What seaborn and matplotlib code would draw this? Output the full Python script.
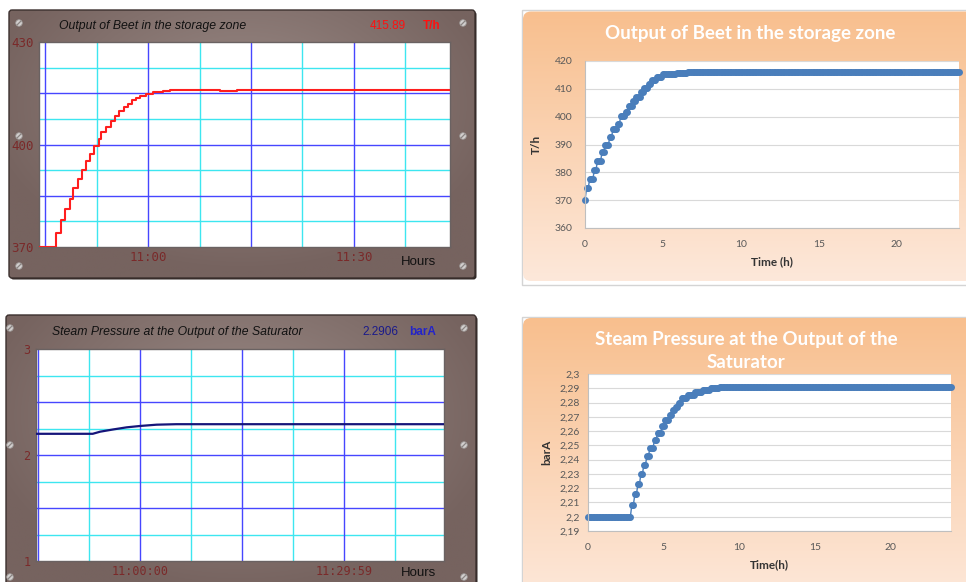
import numpy as np
import pandas as pd
import matplotlib
matplotlib.use("Agg")
import matplotlib.pyplot as plt
from matplotlib.patches import FancyBboxPatch, Circle, Rectangle
import seaborn as sns

sns.set_style("white")
plt.rcParams["font.family"] = ["Liberation Sans", "DejaVu Sans"]

# ---------------- data ----------------
# HMI trend 1: beet output (minutes relative to 11:00, T/h), step trace
beet_hmi_min = [-15.9, -13.47, -12.74, -12.06, -11.43, -10.94, -10.16, -9.63, -9.09,
                -8.51, -7.83, -7.20, -6.81, -6.08, -5.45, -4.76, -4.23, -3.55, -2.92,
                -2.29, -1.70, -1.22, -0.24, 0.73, 2.19, 3.16, 8.0, 10.5, 13.0, 44.0]
beet_hmi_val = [370.0, 374.1, 377.8, 381.0, 384.1, 387.3, 390.0, 392.5, 395.2,
                397.3, 399.7, 401.6, 403.6, 405.1, 406.8, 408.2, 409.7, 410.9, 412.0,
                412.9, 413.7, 414.1, 414.7, 415.3, 415.6, 415.89, 416.0, 415.8, 415.89, 415.89]
beet_reading = "415.89"

# HMI trend 2: steam pressure (minutes relative to 11:00, barA)
steam_hmi_min = [-15.34, -7.0, -5.9, -3.9, -2.0, 0.0, 2.4, 5.3, 44.66]
steam_hmi_val = [2.2, 2.2, 2.22, 2.242, 2.261, 2.274, 2.286, 2.2906, 2.2906]
steam_reading = "2.2906"

# Spreadsheet series, logged every 0.1 h: level of each step and samples per step
beet_levels = [370.0, 374.2, 377.5, 380.7, 384.1, 387.3, 390.0, 392.7, 395.5, 397.5,
               400.1, 401.7, 403.7, 405.7, 407.1, 408.9, 410.4, 411.9, 413.0, 414.3,
               415.2, 415.7, 415.89]
beet_counts = [1, 2, 3, 2, 3, 2, 3, 2, 3, 2, 3, 2, 3, 2, 3, 2, 3, 2, 3, 4, 9, 7, 175]

steam_levels = [2.2, 2.2084, 2.2157, 2.2227, 2.2302, 2.2365, 2.2428, 2.2484, 2.254,
                2.2587, 2.2637, 2.2677, 2.2712, 2.2747, 2.277, 2.2799, 2.2829, 2.2852,
                2.2876, 2.2888, 2.290, 2.2906]
steam_counts = [29, 2, 2, 2, 2, 2, 2, 3, 2, 3, 2, 3, 2, 2, 2, 2, 4, 5, 5, 5, 6, 154]
sample_step_h = 0.1

beet_xl = pd.DataFrame({"t": np.round(np.arange(sum(beet_counts)) * sample_step_h, 1),
                        "v": np.repeat(beet_levels, beet_counts)})
steam_xl = pd.DataFrame({"t": np.round(np.arange(sum(steam_counts)) * sample_step_h, 1),
                         "v": np.repeat(steam_levels, steam_counts)})

# ---------------- figure ----------------
W, H = 966, 582
fig = plt.figure(figsize=(W / 100, H / 100), dpi=100)
fig.patch.set_facecolor("white")


def frac(x0, y0, x1, y1):
    return [x0 / W, 1 - y1 / H, (x1 - x0) / W, (y1 - y0) / H]


bg = fig.add_axes([0, 0, 1, 1])
bg.set_zorder(-1)
bg.set_xlim(0, W)
bg.set_ylim(H, 0)
bg.axis("off")


def gradient_box(x0, y0, x1, y1, img, radius, edge=None, lw=0):
    patch = FancyBboxPatch((x0, y0), x1 - x0, y1 - y0,
                           boxstyle=f"round,pad=0,rounding_size={radius}",
                           facecolor="none", edgecolor="none")
    bg.add_patch(patch)
    im = bg.imshow(img, extent=(x0, x1, y1, y0), origin="upper",
                   aspect="auto", interpolation="bilinear", zorder=1)
    im.set_clip_path(patch)
    if edge is not None:
        bg.add_patch(FancyBboxPatch((x0, y0), x1 - x0, y1 - y0,
                                    boxstyle=f"round,pad=0,rounding_size={radius}",
                                    facecolor="none", edgecolor=edge, lw=lw, zorder=2))
    bg.set_xlim(0, W)
    bg.set_ylim(H, 0)


def frame_texture(nx=240, ny=140):
    xx, yy = np.meshgrid(np.linspace(-1, 1, nx), np.linspace(-1, 1, ny))
    d = np.clip(np.sqrt((xx * 0.9) ** 2 + ((yy + 0.3) * 0.8) ** 2), 0, 1)
    light = np.array([0x9a, 0x8a, 0x86]) / 255
    dark = np.array([0x76, 0x63, 0x5f]) / 255
    return light[None, None, :] * (1 - d[..., None]) + dark[None, None, :] * d[..., None]


def peach_texture(ny=100):
    t = np.linspace(0, 1, ny)[:, None, None]
    top = np.array([0xf8, 0xbf, 0x8e]) / 255
    bot = np.array([0xfd, 0xe8, 0xda]) / 255
    return np.repeat(top * (1 - t) + bot * t, 4, axis=1)


def screw(x, y):
    bg.add_patch(Circle((x, y), 3.3, facecolor="#d2cfce", edgecolor="#9a9492",
                        lw=0.6, zorder=3))
    bg.plot([x - 1.8, x + 1.8], [y + 1.8, y - 1.8], color="#8a8482", lw=0.9, zorder=4)


# HMI frames (with dark drop edge)
for (x0, y0, x1, y1) in [(9, 10, 475, 278), (6, 315, 476, 600)]:
    bg.add_patch(FancyBboxPatch((x0 + 1.5, y0 + 1.5), x1 - x0, y1 - y0,
                                boxstyle="round,pad=0,rounding_size=3",
                                facecolor="#2e2624", edgecolor="none", zorder=0.5))
    gradient_box(x0, y0, x1, y1, frame_texture(), 3, edge="#3b302e", lw=1.0)

for (x, y) in [(19, 23), (463, 23), (19, 136), (463, 136), (19, 266), (463, 266),
               (10, 328), (464, 328), (10, 445), (464, 445), (10, 577), (464, 577)]:
    screw(x, y)

# Spreadsheet chart areas
bg.add_patch(Rectangle((521.5, 9.5), 460, 275, facecolor="none",
                       edgecolor="#d4d4d4", lw=1.0, zorder=0.8))
gradient_box(523, 11.5, 975, 281, peach_texture(), 8)
bg.add_patch(Rectangle((521.5, 316.5), 460, 300, facecolor="none",
                       edgecolor="#d4d4d4", lw=1.0, zorder=0.8))
gradient_box(523, 318, 975, 600, peach_texture(), 8)

# ---------------- HMI trend styling ----------------
BLUE = "#4646ff"
CYAN = "#3de6f0"
TICKC = "#7a2a2a"
MONO = ["DejaVu Sans Mono"]


def hmi_axes(rect, xlim, ylim, hmajor, hminor, vmajor, vminor):
    ax = fig.add_axes(frac(*rect))
    ax.set_facecolor("white")
    ax.set_xlim(*xlim)
    ax.set_ylim(*ylim)
    for v in hminor:
        ax.axhline(v, color=CYAN, lw=1.0, zorder=1)
    for v in vminor:
        ax.axvline(v, color=CYAN, lw=1.0, zorder=1)
    for v in hmajor:
        ax.axhline(v, color=BLUE, lw=1.0, zorder=1.5)
    for v in vmajor:
        ax.axvline(v, color=BLUE, lw=1.0, zorder=1.5)
    for s in ax.spines.values():
        s.set_color("#6a6262")
        s.set_linewidth(1.0)
    ax.tick_params(length=0, labelsize=8.5, colors=TICKC)
    return ax


# Trend 1
ax1 = hmi_axes((39, 42, 450, 247), (-15.9, 44.0), (370, 430),
               [415, 400, 385], [422.5, 407.5, 392.5, 377.5],
               [-15, 0, 15, 30], [-7.5, 7.5, 22.5, 37.5])
sns.lineplot(x=beet_hmi_min, y=beet_hmi_val, ax=ax1, color="#ff1e1e", lw=1.5,
             drawstyle="steps-post", estimator=None, sort=False, zorder=3)
ax1.set_yticks([370, 400, 430])
ax1.set_yticklabels(["370", "400", "430"], family=MONO, fontsize=9, color=TICKC)
ax1.set_xticks([0, 30])
ax1.set_xticklabels(["11:00", "11:30"], family=MONO, fontsize=9, color=TICKC)
ax1.tick_params(axis="y", pad=4)
ax1.tick_params(axis="x", pad=3)
ax1.set_xlabel("")
ax1.set_ylabel("")

bg.text(59, 26, "Output of Beet in the storage zone", style="italic", fontsize=8.8,
        color="#111111", va="center", ha="left")
bg.text(406, 26, beet_reading, fontsize=8.5, color="#ff1010", va="center", ha="right")
bg.text(423, 26, "T/h", fontsize=8.5, color="#ff1010", va="center", ha="left",
        weight="bold")
bg.text(401, 262, "Hours", fontsize=9.5, color="#111111", va="center", ha="left")

# Trend 2
ax3 = hmi_axes((36, 349, 444, 561), (-15.34, 44.66), (1, 3),
               [2.5, 2.0, 1.5], [2.75, 2.25, 1.75, 1.25],
               [-15, 0, 15, 30], [-7.5, 7.5, 22.5, 37.5])
sns.lineplot(x=steam_hmi_min, y=steam_hmi_val, ax=ax3, color="#15157a", lw=1.6,
             estimator=None, sort=False, zorder=3)
ax3.set_yticks([1, 2, 3])
ax3.set_yticklabels(["1", "2", "3"], family=MONO, fontsize=8.5, color=TICKC)
ax3.set_xticks([0, 30])
ax3.set_xticklabels(["11:00:00", "11:29:59"], family=MONO, fontsize=8.5, color=TICKC)
ax3.tick_params(axis="y", pad=4)
ax3.tick_params(axis="x", pad=3)
ax3.set_xlabel("")
ax3.set_ylabel("")

bg.text(52, 332, "Steam Pressure at the Output of the Saturator", style="italic",
        fontsize=8.8, color="#111111", va="center", ha="left")
bg.text(398, 332, steam_reading, fontsize=8.5, color="#1a1a8a", va="center", ha="right")
bg.text(409, 332, "barA", fontsize=8.5, color="#2424c8", va="center", ha="left",
        weight="bold")
bg.text(401, 573, "Hours", fontsize=9.5, color="#111111", va="center", ha="left")

# ---------------- spreadsheet charts ----------------
XL_BLUE = "#4a7ebb"
XL_FONT = ["Lato", "DejaVu Sans"]


def xl_axes(rect, ylim, yticks, ylabels):
    ax = fig.add_axes(frac(*rect))
    ax.set_facecolor("white")
    ax.set_xlim(0, 24)
    ax.set_ylim(*ylim)
    ax.set_yticks(yticks)
    ax.set_yticklabels(ylabels, family=XL_FONT, fontsize=7.5, color="#595959")
    ax.set_xticks([0, 5, 10, 15, 20])
    ax.set_xticklabels(["0", "5", "10", "15", "20"], family=XL_FONT, fontsize=7.5,
                       color="#595959")
    ax.grid(axis="y", color="#d9d9d9", lw=0.8)
    ax.set_axisbelow(True)
    for side in ["top", "right"]:
        ax.spines[side].set_visible(False)
    for side in ["left", "bottom"]:
        ax.spines[side].set_color("#bfbfbf")
        ax.spines[side].set_linewidth(0.8)
    ax.tick_params(length=0)
    return ax


ax2 = xl_axes((585, 61, 959, 228), (360, 420), [360, 370, 380, 390, 400, 410, 420],
              ["360", "370", "380", "390", "400", "410", "420"])
ax2.tick_params(axis="y", pad=9)
ax2.tick_params(axis="x", pad=9)
sns.lineplot(data=beet_xl, x="t", y="v", ax=ax2, color=XL_BLUE, lw=1.0, marker="o",
             markersize=5, markeredgewidth=0, estimator=None, clip_on=False)
ax2.set_xlabel("Time (h)", family=XL_FONT, fontsize=8.5, weight="bold",
               color="#333333", labelpad=5)
ax2.set_ylabel("T/h", family=XL_FONT, fontsize=8.5, weight="bold",
               color="#333333", labelpad=9)
bg.text(750, 33, "Output of Beet in the storage zone", family=XL_FONT, fontsize=13.5,
        weight="bold", color="white", ha="center", va="center")

steam_ticks = [2.19, 2.20, 2.21, 2.22, 2.23, 2.24, 2.25, 2.26, 2.27, 2.28, 2.29, 2.30]
steam_tick_labels = ["2,19", "2,2", "2,21", "2,22", "2,23", "2,24", "2,25", "2,26",
                     "2,27", "2,28", "2,29", "2,3"]
ax4 = xl_axes((588, 374, 951, 531), (2.19, 2.30), steam_ticks, steam_tick_labels)
ax4.tick_params(axis="y", pad=6)
ax4.tick_params(axis="x", pad=9)
sns.lineplot(data=steam_xl, x="t", y="v", ax=ax4, color=XL_BLUE, lw=1.0, marker="o",
             markersize=5, markeredgewidth=0, estimator=None, clip_on=False)
ax4.set_xlabel("Time(h)", family=XL_FONT, fontsize=8.5, weight="bold",
               color="#333333", labelpad=5)
ax4.set_ylabel("barA", family=XL_FONT, fontsize=8.5, weight="bold",
               color="#333333", labelpad=5)
bg.text(746, 340, "Steam Pressure at the Output of the", family=XL_FONT, fontsize=13.5,
        weight="bold", color="white", ha="center", va="center")
bg.text(746, 363, "Saturator", family=XL_FONT, fontsize=13.5,
        weight="bold", color="white", ha="center", va="center")

fig.savefig("out.png", dpi=100, facecolor="white")
